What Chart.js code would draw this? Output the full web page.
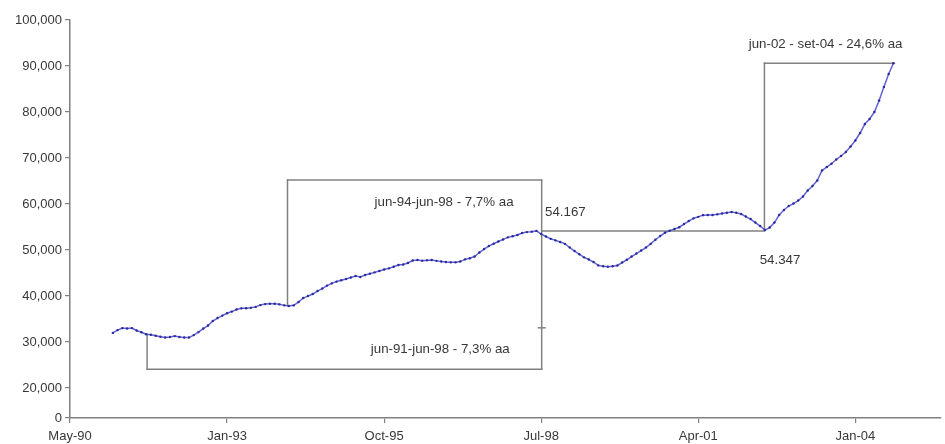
<!DOCTYPE html>
<html>
<head>
<meta charset="utf-8">
<script src="https://cdn.jsdelivr.net/npm/chart.js@4.4.1/dist/chart.umd.min.js"></script>
<style>
  html, body { margin: 0; padding: 0; background: #ffffff; }
  #wrap { width: 945px; height: 444px; }
</style>
</head>
<body>
<div id="wrap"><canvas id="c" width="945" height="444"></canvas></div>
<script>
// ---- data (month index on the axis: 0 = first tick "May-90", ticks every 33 months) ----
const firstDataMonth = 9;   // jan-91
const seriesValues = [
  32000, 32600, 33040, 32940, 33040, 32520, 32150, 31700, 31590, 31390,
  31150, 30980, 31090, 31300, 31090, 31000, 30980, 31520, 32170, 32940,
  33590, 34570, 35220, 35760, 36260, 36630, 37070, 37330, 37350, 37440,
  37650, 38040, 38260, 38330, 38330, 38200, 37980, 37830, 37980, 38700,
  39570, 40000, 40440, 41090, 41630, 42280, 42760, 43150, 43440, 43700,
  44020, 44350, 44130, 44570, 44870, 45150, 45440, 45760, 46020, 46370,
  46740, 46850, 47180, 47720, 47830, 47700, 47760, 47830, 47650, 47500,
  47390, 47330, 47330, 47500, 47980, 48220, 48590, 49460, 50220, 50870,
  51370, 51850, 52310, 52760, 53000, 53260, 53700, 53900, 54000, 54167,
  53480, 52940, 52440, 52110, 51740, 51350, 50550, 49780, 49090, 48410,
  47940, 47390, 46670, 46480, 46390, 46480, 46650, 47280, 47890, 48590,
  49240, 49890, 50550, 51350, 52240, 53050, 53760, 54220, 54570, 54960,
  55650, 56310, 56890, 57220, 57590, 57610, 57610, 57760, 57960, 58110,
  58260, 58110, 57830, 57280, 56740, 55980, 55220, 54347, 54890, 55980,
  57610, 58700, 59570, 60110, 60760, 61630, 62940, 63910, 65110, 67280,
  68050, 68760, 69680, 70440, 71310, 72500, 73810, 75440, 77390, 78480,
  80000, 82500, 85440, 88260, 90600
];
const xTickMonths = [0, 33, 66, 99, 132, 165];
const xTickLabels = ['May-90', 'Jan-93', 'Oct-95', 'Jul-98', 'Apr-01', 'Jan-04'];
const yTickValues = [20000, 30000, 40000, 50000, 60000, 70000, 80000, 90000, 100000];
const yAxisFloor = 13500;   // bottom of the axis, labelled "0" in the original
const xAxisEnd = 183;

// annotation segments [x1, y1, x2, y2] in axis units (month index, value)
const annotationSegments = [
  [16.2, 31700, 16.2, 24100],
  [16.2, 24100, 99.1, 24100],
  [99.1, 24100, 99.1, 65200],
  [45.7, 37900, 45.7, 65200],
  [45.7, 65200, 99.1, 65200],
  [99.1, 54167, 145.9, 54167],
  [145.9, 54347, 145.9, 90600],
  [145.9, 90600, 173.2, 90600],
  [98.4, 33100, 99.8, 33100]
];
const annotationTexts = [
  { text: 'jun-94-jun-98 - 7,7% aa', x: 64.0, y: 60445 },
  { text: 'jun-91-jun-98 - 7,3% aa', x: 63.2, y: 28497 },
  { text: '54.167', x: 99.8, y: 58272 },
  { text: '54.347', x: 144.9, y: 47840 },
  { text: 'jun-02 - set-04 - 24,6% aa', x: 142.6, y: 94785 }
];

const points = seriesValues.map((v, i) => ({ x: firstDataMonth + i, y: v }));
const FONT = '"Liberation Sans", Arial, sans-serif';

const annotationPlugin = {
  id: 'boxes',
  beforeDatasetsDraw(chart) {
    const { ctx, scales: { x, y } } = chart;
    ctx.save();
    ctx.strokeStyle = '#808080';
    ctx.lineWidth = 1.5;
    ctx.lineCap = 'square';
    annotationSegments.forEach(s => {
      ctx.beginPath();
      ctx.moveTo(x.getPixelForValue(s[0]), y.getPixelForValue(s[1]));
      ctx.lineTo(x.getPixelForValue(s[2]), y.getPixelForValue(s[3]));
      ctx.stroke();
    });
    ctx.restore();
  },
  afterDatasetsDraw(chart) {
    const { ctx, scales: { x, y } } = chart;
    ctx.save();
    ctx.fillStyle = '#383838';
    ctx.font = '13.3px ' + FONT;
    ctx.textAlign = 'left';
    ctx.textBaseline = 'middle';
    annotationTexts.forEach(t => {
      ctx.fillText(t.text, x.getPixelForValue(t.x), y.getPixelForValue(t.y));
    });
    ctx.restore();
  }
};

new Chart(document.getElementById('c'), {
  type: 'line',
  data: {
    datasets: [{
      data: points,
      borderColor: 'rgba(70,70,205,0.85)',
      borderWidth: 1.5,
      pointRadius: 1.2,
      pointBackgroundColor: '#2a2a9c',
      pointBorderWidth: 0,
      tension: 0,
      fill: false
    }]
  },
  options: {
    responsive: false,
    animation: false,
    events: [],
    layout: { padding: { top: 20, right: 0, bottom: 0, left: 0 } },
    plugins: { legend: { display: false }, tooltip: { enabled: false } },
    scales: {
      x: {
        type: 'linear',
        min: 0,
        max: xAxisEnd,
        afterBuildTicks(scale) { scale.ticks = xTickMonths.map(v => ({ value: v })); },
        afterFit(scale) { scale.height = 26; },
        ticks: {
          autoSkip: false,
          maxRotation: 0,
          padding: 6,
          color: '#383838',
          font: { family: FONT, size: 13 },
          callback: (v) => xTickLabels[xTickMonths.indexOf(v)]
        },
        grid: { drawOnChartArea: false, drawTicks: true, tickLength: 5, color: '#808080', lineWidth: 1.2 },
        border: { color: '#808080', width: 1.5 }
      },
      y: {
        type: 'linear',
        min: yAxisFloor,
        max: 100000,
        afterBuildTicks(scale) { scale.ticks = [yAxisFloor].concat(yTickValues).map(v => ({ value: v })); },
        afterFit(scale) { scale.width = 70; },
        ticks: {
          autoSkip: false,
          padding: 3,
          color: '#383838',
          font: { family: FONT, size: 13 },
          callback: (v) => v === yAxisFloor ? '0' : v.toLocaleString('en-US')
        },
        grid: { drawOnChartArea: false, drawTicks: true, tickLength: 5, color: '#808080', lineWidth: 1.2 },
        border: { color: '#808080', width: 1.5 }
      }
    }
  },
  plugins: [annotationPlugin]
});
</script>
</body>
</html>
